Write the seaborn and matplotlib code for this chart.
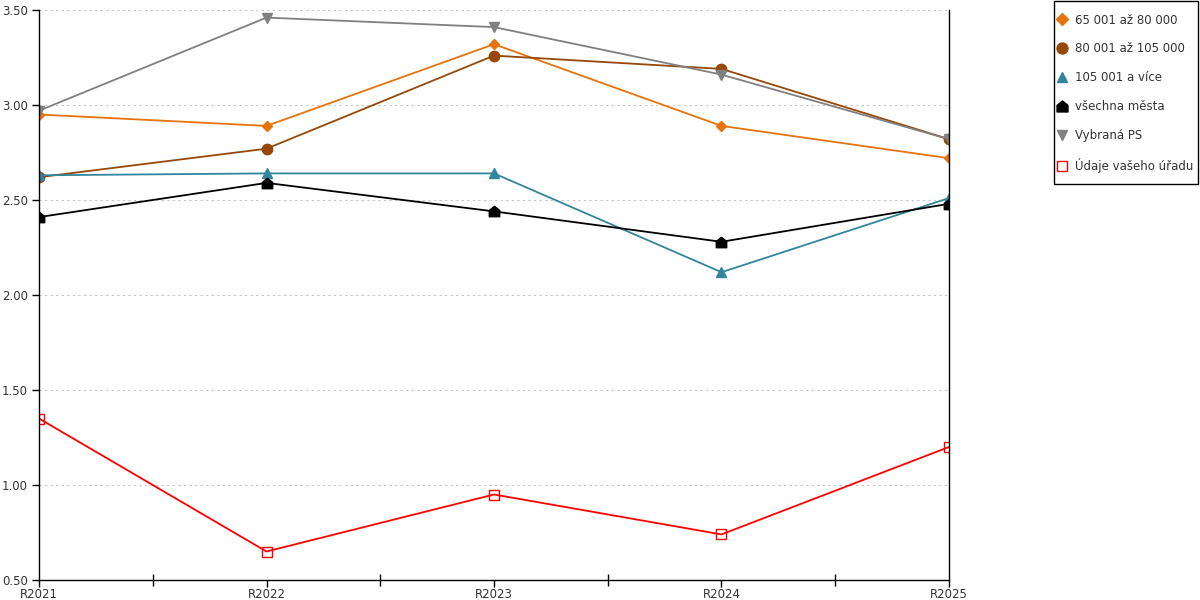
import matplotlib
matplotlib.use("Agg")
import matplotlib.pyplot as plt
from matplotlib.lines import Line2D
from matplotlib.path import Path
from matplotlib.patches import Rectangle
from matplotlib.ticker import MultipleLocator, FixedLocator, FormatStrFormatter
import seaborn as sns
import pandas as pd

years = ["R2021", "R2022", "R2023", "R2024", "R2025"]
s_65_80 = [2.95, 2.89, 3.32, 2.89, 2.72]
s_80_105 = [2.62, 2.77, 3.26, 3.19, 2.82]
s_105 = [2.63, 2.64, 2.64, 2.12, 2.51]
s_all = [2.41, 2.59, 2.44, 2.28, 2.48]
s_ps = [2.97, 3.46, 3.41, 3.16, 2.82]
s_office = [1.35, 0.65, 0.95, 0.74, 1.20]

names = ["65 001 až 80 000", "80 001 až 105 000", "105 001 a více",
         "všechna města", "Vybraná PS", "Údaje vašeho úřadu"]
values = [s_65_80, s_80_105, s_105, s_all, s_ps, s_office]

sns.set_theme(style="white")
plt.rcParams['font.family'] = ['DejaVu Sans']

house = Path([(-1, -1), (1, -1), (1, 0.2), (0, 1), (-1, 0.2), (-1, -1)],
             [Path.MOVETO, Path.LINETO, Path.LINETO, Path.LINETO, Path.LINETO, Path.CLOSEPOLY])

styles = [
    dict(color="#E8720C", marker="D", ms=5.5, mfc="#E8720C", mec="#E8720C"),
    dict(color="#974706", marker="o", ms=7.5, mfc="#974706", mec="#974706"),
    dict(color="#31859C", marker="^", ms=7.5, mfc="#31859C", mec="#31859C"),
    dict(color="#000000", marker=house, ms=7.5, mfc="#000000", mec="#000000"),
    dict(color="#808080", marker="v", ms=7.5, mfc="#808080", mec="#808080"),
    dict(color="#FF0000", marker="s", ms=7, mfc="none", mec="#FF0000"),
]

fig = plt.figure(figsize=(12, 6), dpi=100)
ax = fig.add_axes([39/1200, 20/600, (949-39)/1200, (580-10)/600])

for name, vals, st in zip(names, values, styles):
    df = pd.DataFrame({"rok": years, "hodnota": vals})
    sns.lineplot(data=df, x="rok", y="hodnota", ax=ax, color=st["color"],
                 marker=st["marker"], markersize=st["ms"],
                 markerfacecolor=st["mfc"], markeredgecolor=st["mec"],
                 markeredgewidth=1.0, linewidth=1.3, sort=False)

ax.set_xlim(0, 4)
ax.set_ylim(0.5, 3.5)
ax.yaxis.set_major_locator(MultipleLocator(0.5))
ax.yaxis.set_major_formatter(FormatStrFormatter("%.2f"))
ax.xaxis.set_minor_locator(FixedLocator([0.5, 1.5, 2.5, 3.5]))
ax.set_xlabel("")
ax.set_ylabel("")

for y in [1.0, 1.5, 2.0, 2.5, 3.0, 3.5]:
    ax.axhline(y, color="#C4C4C4", linestyle=(0, (2, 3)), linewidth=0.8, zorder=0)

ax.spines["top"].set_visible(False)
for side in ["left", "bottom", "right"]:
    ax.spines[side].set_visible(True)
    ax.spines[side].set_color("black")
    ax.spines[side].set_linewidth(1.0)

ax.tick_params(axis="y", which="major", direction="out", length=5, width=1,
               color="black", labelsize=8.5, labelcolor="#333333", left=True, pad=3)
ax.tick_params(axis="x", which="major", direction="out", length=5, width=1,
               color="black", labelsize=8.5, labelcolor="#333333", bottom=True, pad=1)
ax.tick_params(axis="x", which="minor", direction="inout", length=8, width=1,
               color="black", bottom=True)

handles = [Line2D([], [], linestyle="none", marker=st["marker"],
                  markersize=st["ms"] * 1.05, markerfacecolor=st["mfc"],
                  markeredgecolor=st["mec"]) for st in styles]
leg = fig.legend(handles, names, loc="upper left",
                 bbox_to_anchor=(1059.5/1200, 1 - 13.5/600),
                 frameon=False, fontsize=8.5,
                 labelspacing=1.35, handlelength=0.4, handletextpad=0.9,
                 borderpad=0, borderaxespad=0)
for t in leg.get_texts():
    t.set_color("#333333")

fig.patches.append(Rectangle((1054/1200, 1 - 184/600), (1198-1054)/1200, 183/600,
                             transform=fig.transFigure, fill=False,
                             edgecolor="black", linewidth=1.0))

fig.savefig("out.png", dpi=100)
